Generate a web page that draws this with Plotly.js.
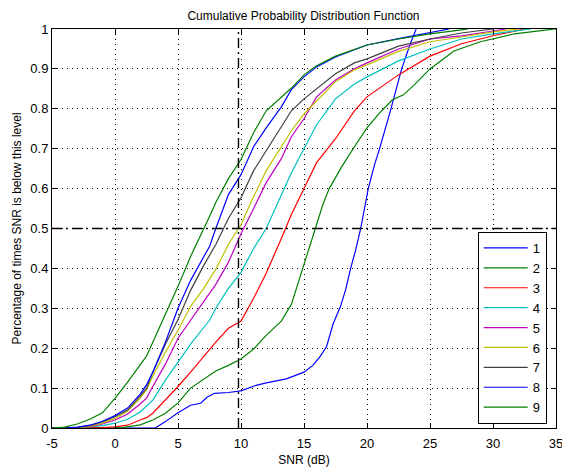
<!DOCTYPE html>
<html>
<head>
<meta charset="utf-8">
<script src="https://cdn.plot.ly/plotly-3.0.1.min.js"></script>
<style>
  html, body { margin: 0; padding: 0; background: #ffffff; }
  #chart { width: 562px; height: 468px; }
</style>
</head>
<body>
<div id="chart"></div>
<script>
// ---- Data ----
const seriesNames = ["1", "2", "3", "4", "5", "6", "7", "8", "9"];

const xTickVals = [-5, 0, 5, 10, 15, 20, 25, 30, 35];
const xTickText = ["-5", "0", "5", "10", "15", "20", "25", "30", "35"];
const yTickVals = [0, 0.1, 0.2, 0.3, 0.4, 0.5, 0.6, 0.7, 0.8, 0.9, 1];
const yTickText = ["0", "0.1", "0.2", "0.3", "0.4", "0.5", "0.6", "0.7", "0.8", "0.9", "1"];

const snr1 = [-5, 3.2, 4, 5, 6, 6.8, 7.3, 7.9, 9, 10, 11.2, 12, 13.6, 15, 15.7, 16.3, 16.8, 17.3, 17.9, 18.3, 18.7, 19.1, 19.5, 19.85, 20.1, 20.6, 21, 21.9, 22.75, 23.4, 23.9];
const cdf1 = [0, 0, 0.016, 0.038, 0.057, 0.062, 0.077, 0.087, 0.089, 0.093, 0.107, 0.113, 0.123, 0.14, 0.157, 0.18, 0.205, 0.26, 0.305, 0.346, 0.4, 0.446, 0.5, 0.56, 0.6, 0.66, 0.7, 0.8, 0.9, 0.96, 1.0];

const snr2 = [-5, 0, 0.6, 2, 3, 4, 5, 6, 7, 8, 9, 10, 11, 12, 13.2, 14, 14.5, 15, 15.5, 16, 16.5, 17, 17.5, 18, 19, 20, 21, 22, 22.9, 23.75, 25, 26.9, 29, 31.7, 34.3, 35];
const cdf2 = [0, 0, 0.001, 0.008, 0.02, 0.037, 0.063, 0.1, 0.122, 0.143, 0.157, 0.173, 0.198, 0.232, 0.268, 0.31, 0.36, 0.41, 0.46, 0.505, 0.56, 0.6, 0.628, 0.655, 0.705, 0.752, 0.79, 0.822, 0.835, 0.86, 0.9, 0.945, 0.968, 0.988, 0.998, 1.0];

const snr3 = [-5, -2, -1, 0, 1, 2, 2.5, 3, 4, 5, 6, 7, 7.5, 8, 9, 10, 11, 12, 13.2, 14, 15, 16, 17.5, 19, 20, 22.5, 25, 27.5, 30, 32.5];
const cdf3 = [0, 0, 0.001, 0.003, 0.007, 0.02, 0.026, 0.037, 0.07, 0.104, 0.14, 0.178, 0.195, 0.215, 0.25, 0.268, 0.325, 0.388, 0.475, 0.535, 0.6, 0.665, 0.725, 0.795, 0.83, 0.885, 0.932, 0.963, 0.983, 1.0];

const snr4 = [-5, -3, -2, -1, 0, 1, 2, 2.5, 3, 4, 5, 6, 7, 7.5, 8, 9, 10, 11, 12, 13.2, 14, 15, 16, 17.5, 19, 20, 22.5, 25, 27.5, 30, 33];
const cdf4 = [0, 0, 0.003, 0.006, 0.012, 0.022, 0.04, 0.054, 0.07, 0.12, 0.166, 0.21, 0.25, 0.27, 0.3, 0.35, 0.39, 0.45, 0.5, 0.585, 0.64, 0.7, 0.76, 0.825, 0.862, 0.88, 0.92, 0.95, 0.975, 0.988, 1.0];

const snr5 = [-5, -3, -2, -1, 0, 1, 2, 2.5, 3, 4, 5, 6, 7, 7.5, 8, 9, 10, 11, 12, 13.2, 14, 15, 16, 17.5, 19, 20, 22.5, 25, 27.5, 30, 31];
const cdf5 = [0, 0, 0.003, 0.01, 0.02, 0.035, 0.06, 0.075, 0.104, 0.16, 0.225, 0.27, 0.315, 0.338, 0.36, 0.415, 0.487, 0.55, 0.615, 0.675, 0.73, 0.775, 0.83, 0.872, 0.9, 0.915, 0.95, 0.975, 0.983, 0.995, 1.0];

const snr6 = [-5, -3, -2, -1, 0, 1, 2, 2.5, 3, 4, 5, 6, 7, 7.5, 8, 9, 10, 11, 12, 13.2, 14, 15, 16, 17.5, 19, 20, 22.5, 25, 27.5, 30, 32];
const cdf6 = [0, 0, 0.004, 0.012, 0.024, 0.042, 0.075, 0.096, 0.13, 0.19, 0.245, 0.305, 0.348, 0.372, 0.398, 0.46, 0.51, 0.58, 0.645, 0.705, 0.745, 0.787, 0.82, 0.868, 0.898, 0.91, 0.944, 0.968, 0.98, 0.993, 1.0];

const snr7 = [-5, -4, -3, -2, -1, 0, 1, 2, 2.5, 3, 4, 5, 6, 7, 7.5, 8, 9, 10, 11, 12, 13.2, 14, 15, 16, 17.5, 19, 20, 22.5, 25, 27.5, 30];
const cdf7 = [0, 0, 0.001, 0.006, 0.015, 0.028, 0.045, 0.08, 0.1, 0.14, 0.21, 0.272, 0.345, 0.405, 0.433, 0.46, 0.525, 0.577, 0.645, 0.695, 0.755, 0.795, 0.825, 0.85, 0.888, 0.915, 0.925, 0.957, 0.975, 0.99, 1.0];

const snr8 = [-5, -4, -3, -2, -1, 0, 1, 2, 2.5, 3, 4, 5, 6, 7, 7.5, 8, 9, 10, 11, 12, 13.2, 14, 15, 16, 17.5, 19, 20, 22.5, 25, 26.5];
const cdf8 = [0, 0, 0.002, 0.007, 0.017, 0.031, 0.05, 0.085, 0.108, 0.14, 0.215, 0.3, 0.37, 0.425, 0.455, 0.5, 0.585, 0.635, 0.705, 0.752, 0.805, 0.848, 0.88, 0.905, 0.93, 0.948, 0.96, 0.976, 0.99, 1.0];

const snr9 = [-5, -4, -3, -2, -1, 0, 1, 2, 2.5, 3, 4, 5, 6, 7, 7.5, 8, 9, 10, 11, 12, 13.2, 14, 15, 16, 17.5, 19, 20, 22.5, 25, 27.5, 28];
const cdf9 = [0, 0.002, 0.01, 0.022, 0.038, 0.074, 0.115, 0.16, 0.18, 0.215, 0.285, 0.355, 0.43, 0.495, 0.53, 0.565, 0.625, 0.673, 0.74, 0.795, 0.83, 0.852, 0.885, 0.908, 0.932, 0.948, 0.96, 0.975, 0.988, 0.998, 1.0];

// reference (threshold) lines
const refSnrX = [9.8, 9.8];
const refSnrY = [0, 1];
const refProbX = [-5, 35];
const refProbY = [0.5, 0.5];

// ---- Styling ----
const colors = ["#0000ff", "#008000", "#ff0000", "#00bfbf", "#bf00bf", "#bfbf00", "#404040", "#0000ff", "#008000"];
const xs = [snr1, snr2, snr3, snr4, snr5, snr6, snr7, snr8, snr9];
const ys = [cdf1, cdf2, cdf3, cdf4, cdf5, cdf6, cdf7, cdf8, cdf9];

const traces = seriesNames.map((name, i) => ({
  x: xs[i], y: ys[i], name: name, type: "scatter", mode: "lines",
  line: { color: colors[i], width: 1.2 }
}));

const refDash = "10px,4px,2px,4px";
traces.push({ x: refSnrX, y: refSnrY, mode: "lines", showlegend: false, hoverinfo: "skip",
  line: { color: "#000000", width: 1.4, dash: refDash } });
traces.push({ x: refProbX, y: refProbY, mode: "lines", showlegend: false, hoverinfo: "skip",
  line: { color: "#000000", width: 1.4, dash: refDash } });

const fontFam = "Liberation Sans, Arial, sans-serif";

const layout = {
  width: 562, height: 468,
  margin: { l: 52, r: 6, t: 29, b: 40, pad: 0 },
  paper_bgcolor: "#ffffff", plot_bgcolor: "#ffffff",
  font: { family: fontFam, size: 12, color: "#000000" },
  title: { text: "Cumulative Probability Distribution Function", font: { size: 12, family: fontFam, color: "#000" },
           x: 0.54, xanchor: "center", y: 0.967, yanchor: "middle" },
  showlegend: true,
  legend: {
    x: 0.9816, xanchor: "right", y: 0.2506, yanchor: "middle",
    bgcolor: "#ffffff", bordercolor: "#000000", borderwidth: 1,
    font: { size: 13, family: fontFam, color: "#000" },
    traceorder: "normal", itemwidth: 44
  },
  xaxis: {
    range: [-5, 35], tickmode: "array", tickvals: xTickVals, ticktext: xTickText,
    ticks: "inside", ticklen: 5, tickcolor: "#000", mirror: "ticks",
    showline: true, linecolor: "#000", linewidth: 1,
    showgrid: true, gridcolor: "#000", gridwidth: 1, griddash: "1px,4px",
    zeroline: false, tickfont: { size: 13, family: fontFam },
    ticklabelstandoff: 3, ticklabeloverflow: "allow",
    title: { text: "SNR (dB)", font: { size: 12, family: fontFam }, standoff: 6 },
    automargin: false, fixedrange: true
  },
  yaxis: {
    range: [0, 1], tickmode: "array", tickvals: yTickVals, ticktext: yTickText,
    ticks: "inside", ticklen: 5, tickcolor: "#000", mirror: "ticks",
    showline: true, linecolor: "#000", linewidth: 1,
    showgrid: true, gridcolor: "#000", gridwidth: 1, griddash: "1px,4px",
    zeroline: false, tickfont: { size: 13, family: fontFam },
    ticklabeloverflow: "allow",
    title: { text: "Percentage of times SNR is below this level", font: { size: 12, family: fontFam }, standoff: 6 },
    automargin: false, fixedrange: true
  }
};

Plotly.newPlot("chart", traces, layout, { staticPlot: true, displayModeBar: false });
</script>
</body>
</html>
